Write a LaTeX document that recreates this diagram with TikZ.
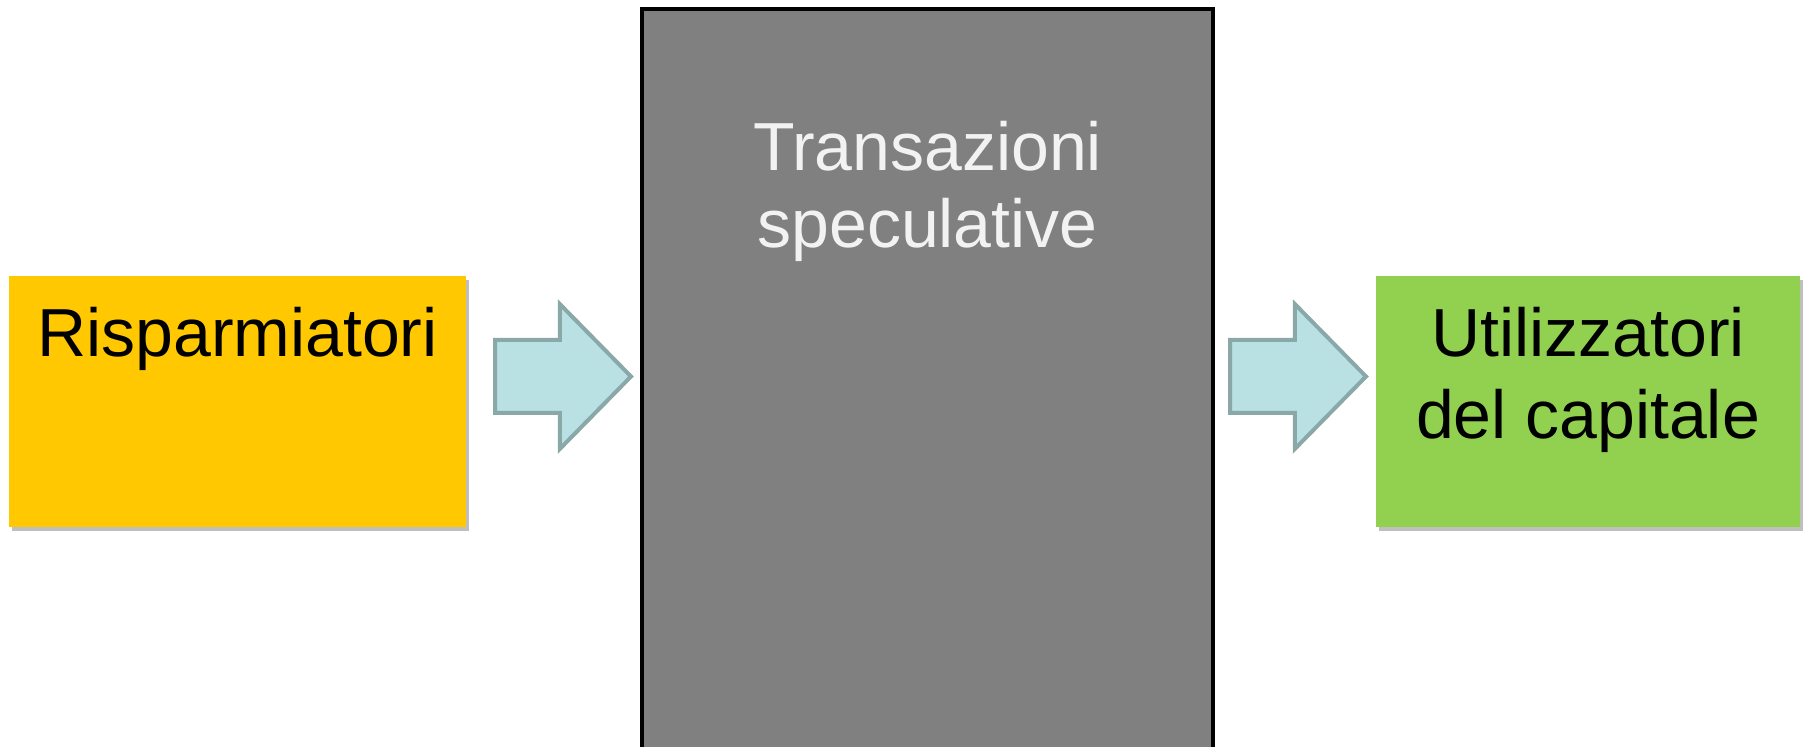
\documentclass[tikz,border=0pt]{standalone}
\usepackage{fontspec}
\setmainfont{Liberation Sans}
\usepackage{xcolor}
\usepackage{tikz}
\usetikzlibrary{positioning,shapes.arrows,shadows}

\definecolor{rispyellow}{HTML}{FFC800}
\definecolor{utilgreen}{HTML}{92D050}
\definecolor{transgrey}{HTML}{808080}
\definecolor{flowfill}{HTML}{B9E0E3}
\definecolor{flowline}{HTML}{8AA8A8}
\definecolor{lighttext}{HTML}{F2F2F2}

\begin{document}
\begin{tikzpicture}[x=0.5pt,y=-0.5pt,
    sidebox/.style={rectangle,draw=none,inner sep=0pt,minimum height=125.5pt,
      drop shadow={shadow xshift=1.5pt,shadow yshift=-2pt,fill=black,opacity=0.25}},
    boxtext/.style={anchor=north,inner sep=0pt,align=center,
      font=\fontsize{34pt}{41pt}\selectfont},
    flow/.style={single arrow,draw=flowline,fill=flowfill,line width=2pt,anchor=tail,
      inner xsep=0pt,inner ysep=17.25pt,minimum height=68pt,single arrow head extend=18pt,
      single arrow tip angle=91,single arrow head indent=0pt}]
      \useasboundingbox (0,0) rectangle (1810,747);
      \clip (0,0) rectangle (1810,747);
      \node[sidebox,fill=rispyellow,minimum width=228.5pt] (risp) at (237.5,401.5) {};
      \node[sidebox,fill=utilgreen,minimum width=212pt] (util) at (1588,401.5) {};
      \node[rectangle,draw=black,line width=2.25pt,fill=transgrey,inner sep=0pt,
        minimum width=285.5pt,minimum height=371.5pt] (trans) at (927.5,380.5) {};
      \node[boxtext] (risptext) at (237.5,307) {Risparmiatori};
      \node[boxtext] (utiltext) at (1588,307) {Utilizzatori\\del capitale};
      \node[boxtext,text=lighttext,font=\fontsize{34pt}{38.5pt}\selectfont]
        (transtext) at (927.5,121) {Transazioni\\speculative};
      \node[flow] (inflow) at (493,376.5) {};
      \node[flow] (outflow) at (1228,376.5) {};
\end{tikzpicture}
\end{document}
